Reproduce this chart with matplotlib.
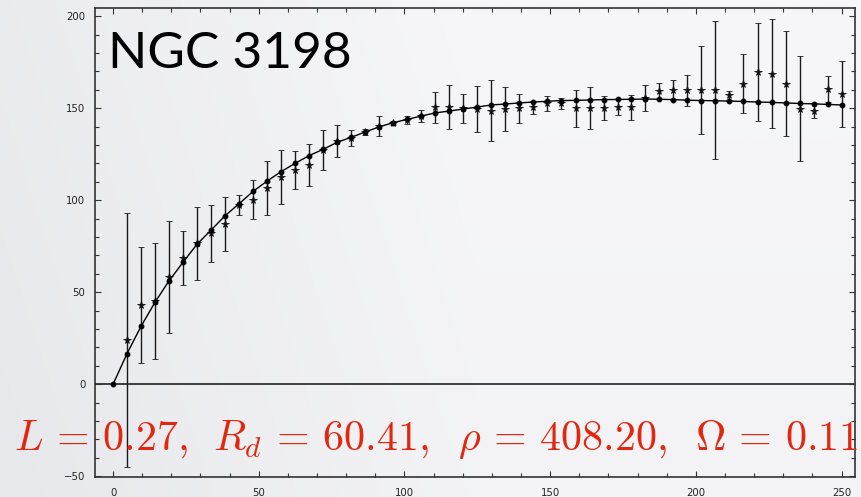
import numpy as np
import matplotlib
matplotlib.use("Agg")
import matplotlib.pyplot as plt
from matplotlib.colors import LinearSegmentedColormap

plt.rcParams["mathtext.fontset"] = "cm"

# Galactocentric radius of each sample (first entry is the model origin)
radius = [0.0, 4.8, 9.6, 14.4, 19.2, 24.0, 28.8, 33.7, 38.5, 43.3, 48.1,
          52.9, 57.7, 62.5, 67.3, 72.1, 76.9, 81.7, 86.5, 91.3, 96.2,
          101.0, 105.8, 110.6, 115.4, 120.2, 125.0, 129.8, 134.6, 139.4, 144.2,
          149.0, 153.8, 158.7, 163.5, 168.3, 173.1, 177.9, 182.7, 187.5, 192.3,
          197.1, 201.9, 206.7, 211.5, 216.3, 221.2, 226.0, 230.8, 235.6, 240.4,
          245.2, 250.0]

# Fitted rotation curve at every radius
v_model = [0.0, 16.7, 31.5, 44.6, 56.2, 66.3, 76.1, 83.9, 91.7, 98.2, 104.9,
           110.5, 115.6, 120.1, 124.3, 127.7, 131.5, 134.2, 137.1, 139.9, 142.2,
           144.0, 145.8, 147.5, 148.5, 149.6, 150.7, 151.8, 152.3, 152.9, 153.4,
           153.8, 154.2, 154.3, 154.5, 154.7, 154.8, 154.9, 155.0, 154.9, 154.7,
           154.4, 154.2, 154.1, 153.9, 153.7, 153.4, 153.2, 152.9, 152.6, 152.4,
           152.1, 151.8]

# Observed velocities and their uncertainties (radius[1:] onwards)
v_obs = [24.1, 43.0, 45.2, 58.3, 68.7, 76.6, 82.2, 87.0, 97.6, 100.4,
         106.6, 112.8, 116.6, 119.3, 127.5, 132.3, 133.9, 137.1, 140.2, 142.0,
         143.5, 145.8, 150.6, 150.9, 150.0, 149.6, 148.6, 149.5, 150.1, 150.5,
         152.8, 152.6, 150.0, 150.2, 150.4, 150.8, 150.6, 155.5, 159.5, 159.8,
         159.8, 159.8, 160.0, 157.0, 163.4, 169.9, 168.8, 163.4, 149.8, 148.7,
         160.7, 157.8]
v_err = [69.0, 31.7, 31.5, 30.4, 14.8, 20.0, 15.5, 14.7, 5.5, 10.5,
         14.8, 14.6, 10.3, 11.3, 10.8, 8.6, 4.5, 1.5, 5.4, 1.2,
         2.3, 3.0, 8.5, 12.0, 8.0, 12.6, 16.5, 11.8, 7.9, 3.7,
         4.1, 3.2, 10.0, 11.2, 6.5, 4.3, 6.8, 7.2, 4.5, 5.5,
         8.5, 24.0, 37.7, 2.6, 16.0, 26.6, 29.7, 28.6, 28.6, 4.1,
         7.1, 18.0]

title = "NGC 3198"
fit_parts = [r"$L\,=\,0.27,$", r"$R_d\,=\,60.41,$",
             r"$\rho\,=\,408.20,$", r"$\Omega\,=\,0.11$"]
fit_part_x = [14, 213, 458, 695]   # pixel offsets of each fit parameter

W, H = 861, 497
fig = plt.figure(figsize=(W / 100, H / 100), dpi=100)

# soft slide-style backdrop
bg = fig.add_axes([0, 0, 1, 1], zorder=-10)
gx = np.linspace(0, 1, 300)
gy = np.linspace(0, 1, 200)
X, Y = np.meshgrid(gx, gy)
shade = np.clip(1.8 * X, 0, 1) * 0.75 + (1 - Y) * 0.25
cmap = LinearSegmentedColormap.from_list("bg", ["#e7e8eb", "#f7f7f9"])
bg.imshow(shade, cmap=cmap, aspect="auto", extent=[0, 1, 0, 1], origin="upper")
bg.set_axis_off()

ax = fig.add_axes([95 / W, 1 - 477 / H, (855 - 95) / W, (477 - 8) / H])
ax.set_facecolor("none")

ax.axhline(0, color="#111111", lw=1.1, zorder=1)

ax.errorbar(radius[1:], v_obs, yerr=v_err, fmt="*", color="#111111",
            ms=5.5, mew=0.6, ecolor="#1a1a1a", elinewidth=1.0, capsize=1.9,
            capthick=1.0, zorder=3)
ax.plot(radius, v_model, "-o", color="black", lw=1.0, ms=3.2, zorder=4)

ax.set_xlim(-6.2, 254.6)
ax.set_ylim(-50.4, 204.5)
ax.set_xticks(np.arange(0, 251, 50))
ax.set_yticks(np.arange(-50, 201, 50))
ax.set_xticks(np.arange(-0, 255, 10), minor=True)
ax.set_yticks(np.arange(-50, 205, 10), minor=True)
ax.tick_params(which="both", direction="in", top=True, right=True,
               color="#333333", width=0.8, labelsize=7.3, labelcolor="#222222")
ax.tick_params(which="major", length=4.5)
ax.tick_params(which="minor", length=3)
ax.tick_params(axis="y", pad=7)
ax.tick_params(axis="x", pad=8)
for s in ax.spines.values():
    s.set_color("#333333")
    s.set_linewidth(1.2)

fig.text(108 / W, 1 - 68.5 / H, title, fontfamily="Lato", fontsize=37,
         color="black", va="baseline", ha="left")

for part, px in zip(fit_parts, fit_part_x):
    fig.text(px / W, 1 - 449.5 / H, part, fontsize=30.3, color="#e3260f",
             va="baseline", ha="left", zorder=10)

fig.savefig("out.png", dpi=100, facecolor=fig.get_facecolor())
